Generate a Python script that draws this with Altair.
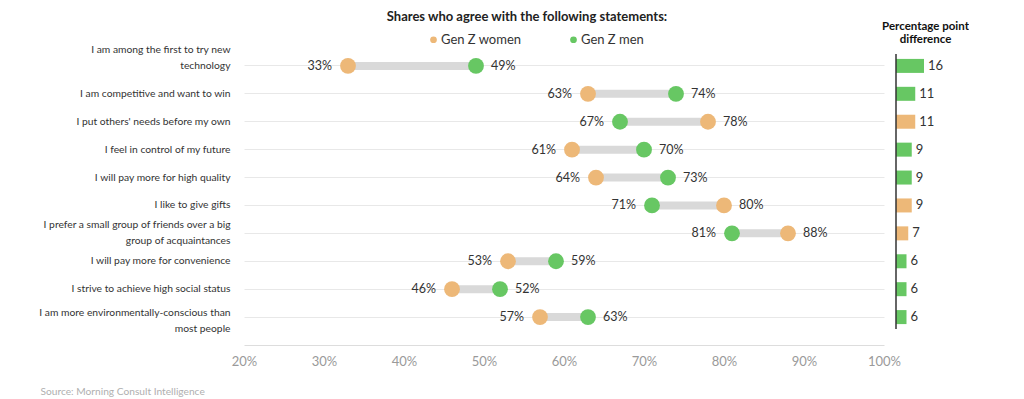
import altair as alt
import pandas as pd

# ---------------- data ----------------
statements = [
    "I am among the first to try new\ntechnology",
    "I am competitive and want to win",
    "I put others' needs before my own",
    "I feel in control of my future",
    "I will pay more for high quality",
    "I like to give gifts",
    "I prefer a small group of friends over a big\ngroup of acquaintances",
    "I will pay more for convenience",
    "I strive to achieve high social status",
    "I am more environmentally-conscious than\nmost people",
]
women = [33, 63, 78, 61, 64, 80, 88, 53, 46, 57]
men = [49, 74, 67, 70, 73, 71, 81, 59, 52, 63]
diff = [16, 11, 11, 9, 9, 9, 7, 6, 6, 6]
groups = ["Gen Z women", "Gen Z men"]
colors = ["#EDB878", "#67C763"]
tick_values = [20, 30, 40, 50, 60, 70, 80, 90, 100]

# ---------------- tables ----------------
pairs = pd.DataFrame({
    "statement": statements,
    "women": women,
    "men": men,
    "lo": [min(w, m) for w, m in zip(women, men)],
    "hi": [max(w, m) for w, m in zip(women, men)],
    "diff": diff,
    "leader": [groups[1] if m > w else groups[0] for w, m in zip(women, men)],
})

long_rows = []
for s, w, m in zip(statements, women, men):
    long_rows.append({"statement": s, "group": groups[0], "value": w,
                      "side": "lo" if w < m else "hi", "label": f"{w}%"})
    long_rows.append({"statement": s, "group": groups[1], "value": m,
                      "side": "lo" if m < w else "hi", "label": f"{m}%"})
long_df = pd.DataFrame(long_rows)

vline_df = pd.DataFrame({"a": [statements[0]], "b": [statements[-1]]})

FONT = "Lato"

# ---------------- shared encodings ----------------
y_scale = alt.Scale(domain=statements, paddingInner=0, paddingOuter=0.5)
y_axis = alt.Axis(
    title=None,
    labelExpr="split(datum.label, '\\n')",
    labelLineHeight=16,
    labelFontSize=10.3,
    labelColor="#333333",
    labelPadding=14,
    labelLimit=400,
    labelOffset={
        "condition": [
            {"test": "indexof(datum.value, 'technology') >= 0", "value": -16},
            {"test": "indexof(datum.value, 'acquaintances') >= 0", "value": -8},
            {"test": "indexof(datum.value, '\\n') >= 0", "value": -4},
        ],
        "value": 0,
    },
    ticks=False,
    domain=False,
    grid=True,
    bandPosition=0.5,
    gridColor="#E8E8E8",
    gridWidth=1,
)
y_enc = alt.Y("statement:N", scale=y_scale, axis=y_axis)

x_scale = alt.Scale(domain=[20, 100], nice=False, zero=False)
x_axis = alt.Axis(
    values=tick_values,
    labelExpr="datum.value + '%'",
    labelFlush=False,
    grid=False,
    ticks=False,
    tickSize=0,
    labelPadding=10,
    labelFontSize=13,
    labelColor="#9A9A9A",
    domainColor="#DDDDDD",
    title="Source: Morning Consult Intelligence",
    titleX=-204,
    titleY=46,
    titleAlign="left",
    titleBaseline="middle",
    titleFontSize=10.2,
    titleFontWeight="normal",
    titleColor="#AFAFAF",
)

color_scale = alt.Scale(domain=groups, range=colors)
legend = alt.Legend(
    orient="none",
    legendX=183,
    legendY=-5,
    direction="horizontal",
    title=None,
    symbolType="circle",
    symbolSize=45,
    symbolStrokeWidth=0,
    labelFontSize=13,
    labelColor="#333333",
    labelOffset=1,
    columnPadding=45,
)

# ---------------- dumbbell ----------------
connector = alt.Chart(pairs).mark_rule(strokeWidth=8, color="#D9D9D9").encode(
    x=alt.X("lo:Q", scale=x_scale, axis=x_axis),
    x2="hi:Q",
    y=y_enc,
)
dots = alt.Chart(long_df).mark_circle(size=250, opacity=1).encode(
    x=alt.X("value:Q", scale=x_scale, axis=x_axis),
    y=y_enc,
    color=alt.Color("group:N", scale=color_scale, legend=legend),
)
text_lo = alt.Chart(long_df).transform_filter(alt.datum.side == "lo").mark_text(
    align="right", dx=-16, fontSize=12.5, color="#333333"
).encode(
    x=alt.X("value:Q", scale=x_scale, axis=x_axis),
    y=y_enc,
    text="label:N",
)
text_hi = alt.Chart(long_df).transform_filter(alt.datum.side == "hi").mark_text(
    align="left", dx=15, fontSize=12.5, color="#333333"
).encode(
    x=alt.X("value:Q", scale=x_scale, axis=x_axis),
    y=y_enc,
    text="label:N",
)
dumbbell = alt.layer(connector, dots, text_lo, text_hi)

# ---------------- difference bars ----------------
bar_scale = alt.Scale(domain=[0, 16], range=[652, 680], nice=False)
bar_axis = alt.Axis(
    orient="top",
    labels=False,
    ticks=False,
    domain=False,
    grid=False,
    title=["Percentage point", "difference"],
    titleX=681,
    titleY=-12,
    titleAlign="center",
    titleBaseline="middle",
    titleFontSize=11.5,
    titleFontWeight="bold",
    titleColor="#111111",
    titleLineHeight=13,
)
bars = alt.Chart(pairs).mark_bar(size=14).encode(
    x=alt.X("diff:Q", scale=bar_scale, axis=bar_axis),
    y=y_enc,
    color=alt.Color("leader:N", scale=color_scale, legend=legend),
)
bar_text = alt.Chart(pairs).mark_text(align="left", dx=4, fontSize=13, color="#333333").encode(
    x=alt.X("diff:Q", scale=bar_scale, axis=bar_axis),
    y=y_enc,
    text="diff:Q",
)
vline = alt.Chart(vline_df).mark_rule(color="#333333", strokeWidth=1.5, yOffset=-12, y2Offset=12).encode(
    x=alt.XDatum(0, type="quantitative", scale=bar_scale, axis=bar_axis),
    y=alt.Y("a:N", scale=y_scale, axis=y_axis),
    y2="b:N",
)
diff_panel = alt.layer(bars, bar_text, vline)

chart = (
    alt.layer(dumbbell, diff_panel)
    .resolve_scale(x="independent")
    .properties(
        width=640,
        height=307,
        padding={"left": 30, "top": 2, "right": 0, "bottom": 0},
        title=alt.TitleParams(
            "Shares who agree with the following statements:",
            fontSize=13,
            fontWeight="bold",
            color="#222222",
            anchor="middle",
            dx=-37,
            offset=-3.5,
        ),
    )
    .configure(font=FONT)
    .configure_view(stroke=None)
)

chart.save("out.html", embed_options={"renderer": "svg", "actions": False})
